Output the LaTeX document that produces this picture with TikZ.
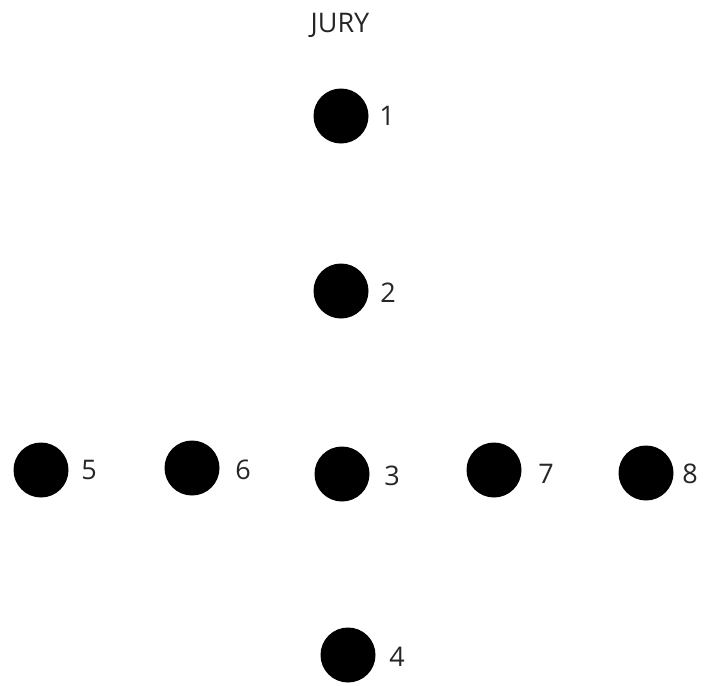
\documentclass[tikz,border=0pt]{standalone}
\usepackage{fontspec}
\setmainfont{Open Sans}
\begin{document}
\begin{tikzpicture}[x=1pt,y=-1pt,
  dot/.style={circle,fill=black,inner sep=0pt,minimum size=55pt},
  num/.style={inner sep=0pt,font=\fontsize{27}{30}\selectfont,text=black!85},
  title/.style={inner sep=0pt,font=\fontsize{27}{30}\selectfont,text=black!85}]
\useasboundingbox (0,0) rectangle (705,686);
\node[title] (jury) at (340,25) {JURY};
\node[dot] (d1) at (341,116) {};
\node[dot] (d2) at (341,291) {};
\node[dot] (d3) at (342,474) {};
\node[dot] (d4) at (348,655) {};
\node[dot] (d5) at (41,470) {};
\node[dot] (d6) at (192,468) {};
\node[dot] (d7) at (494,470) {};
\node[dot] (d8) at (646,473) {};
\node[num] (l1) at (387,116) {1};
\node[num] (l2) at (388,293) {2};
\node[num] (l3) at (392,476) {3};
\node[num] (l4) at (397,657) {4};
\node[num] (l5) at (89,470) {5};
\node[num] (l6) at (243,470) {6};
\node[num] (l7) at (546,474) {7};
\node[num] (l8) at (690,474) {8};
\end{tikzpicture}
\end{document}
